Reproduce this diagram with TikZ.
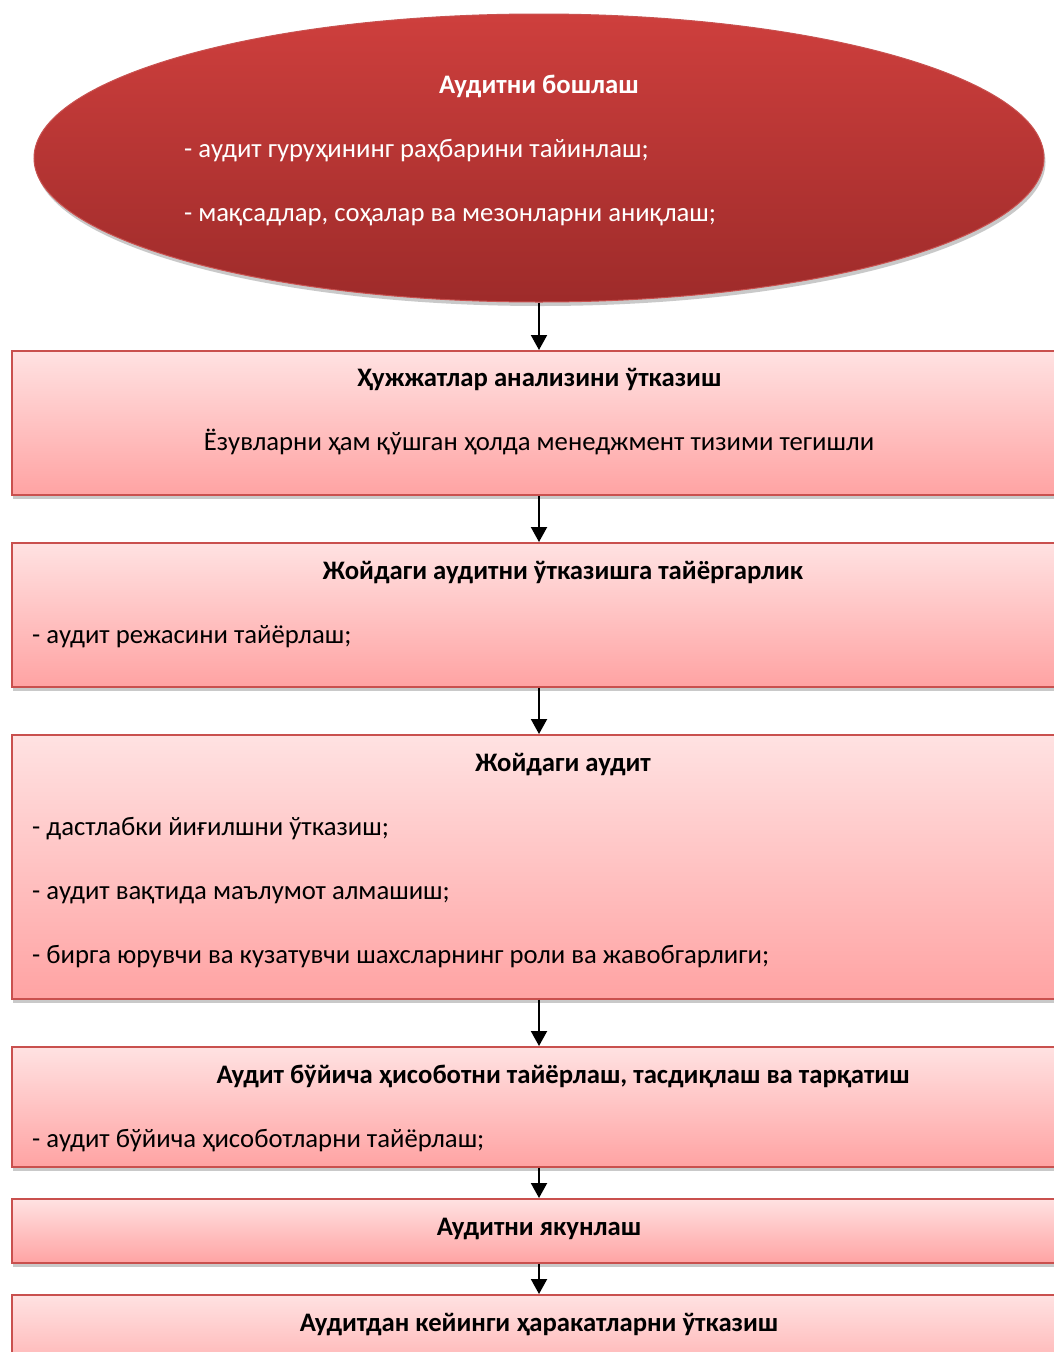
\documentclass[tikz,border=0pt]{standalone}
\usepackage{fontspec}
\setmainfont{Carlito}
\usetikzlibrary{shapes.geometric,shadows,arrows.meta}
\definecolor{elltop}{HTML}{CE3F3D}
\definecolor{ellbot}{HTML}{9E2B2A}
\definecolor{ellborder}{HTML}{C85250}
\definecolor{boxtop}{HTML}{FFE2E2}
\definecolor{boxbot}{HTML}{FFA3A3}
\definecolor{boxborder}{HTML}{C9504E}
\tikzset{
  stepbox/.style={draw=boxborder, line width=1.6pt, rectangle, top color=boxtop, bottom color=boxbot,
    minimum width=1120pt, anchor=north west, inner sep=0pt,
    drop shadow={shadow xshift=1.5pt, shadow yshift=-4pt, opacity=0.35, fill=black!60}},
  startell/.style={ellipse, draw=ellborder, line width=1pt, top color=elltop, bottom color=ellbot,
    minimum width=1010pt, minimum height=288pt, inner sep=0pt,
    drop shadow={shadow xshift=1.5pt, shadow yshift=-4pt, opacity=0.35, fill=black!60}},
  txt/.style={font=\fontsize{26.7}{32}\selectfont, inner sep=0pt, text height=18pt, text depth=6pt},
  btxt/.style={txt, font=\fontsize{26.7}{32}\selectfont\bfseries},
  arr/.style={-{Triangle[length=15pt,width=16pt]}, line width=2pt, black}
}
\begin{document}
\begin{tikzpicture}[x=1pt,y=1pt]
\useasboundingbox (0,0) rectangle (1054,-1352);
\clip (0,0) rectangle (1054,-1352);
\fill[white] (0,0) rectangle (1054,-1352);
% start ellipse
\node[startell] (ell) at (539,-158) {};
\node[btxt, white, anchor=center] (e0) at (539,-87.5) {Аудитни бошлаш};
\node[txt, white, anchor=west] (e1) at (184,-151.5) {- аудит гуруҳининг раҳбарини тайинлаш;};
\node[txt, white, anchor=west] (e2) at (184,-215.5) {- мақсадлар, соҳалар ва мезонларни аниқлаш;};
% boxes
\node[stepbox, minimum height=144pt] (b1) at (11,-350) {};
\node[stepbox, minimum height=144pt] (b2) at (11,-542) {};
\node[stepbox, minimum height=264pt] (b3) at (11,-734) {};
\node[stepbox, minimum height=120pt] (b4) at (11,-1046) {};
\node[stepbox, minimum height=64pt] (b5) at (11,-1198) {};
\node[stepbox, minimum height=100pt] (b6) at (11,-1294) {};
% texts
\node[btxt] (t1) at (539,-380.5) {Ҳужжатлар анализини ўтказиш};
\node[txt] (t1a) at (539,-444.5) {Ёзувларни ҳам қўшган ҳолда менеджмент тизими тегишли};
\node[btxt] (t2) at (563,-573.5) {Жойдаги аудитни ўтказишга тайёргарлик};
\node[txt, anchor=west] (t2a) at (32,-637.5) {- аудит режасини тайёрлаш;};
\node[btxt] (t3) at (563,-765.5) {Жойдаги аудит};
\node[txt, anchor=west] (t3a) at (32,-829.5) {- дастлабки йиғилшни ўтказиш;};
\node[txt, anchor=west] (t3b) at (32,-893.5) {- аудит вақтида маълумот алмашиш;};
\node[txt, anchor=west] (t3c) at (32,-957.5) {- бирга юрувчи ва кузатувчи шахсларнинг роли ва жавобгарлиги;};
\node[btxt] (t4) at (563,-1077.5) {Аудит бўйича ҳисоботни тайёрлаш, тасдиқлаш ва тарқатиш};
\node[txt, anchor=west] (t4a) at (32,-1141.5) {- аудит бўйича ҳисоботларни тайёрлаш;};
\node[btxt] (t5) at (539,-1229.5) {Аудитни якунлаш};
\node[btxt] (t6) at (539,-1325.5) {Аудитдан кейинги ҳаракатларни ўтказиш};
% connectors
\draw[arr] (ell.south) -- (ell.south |- b1.north);
\draw[arr] (ell.south |- b1.south) -- (ell.south |- b2.north);
\draw[arr] (ell.south |- b2.south) -- (ell.south |- b3.north);
\draw[arr] (ell.south |- b3.south) -- (ell.south |- b4.north);
\draw[arr] (ell.south |- b4.south) -- (ell.south |- b5.north);
\draw[arr] (ell.south |- b5.south) -- (ell.south |- b6.north);
\end{tikzpicture}
\end{document}
